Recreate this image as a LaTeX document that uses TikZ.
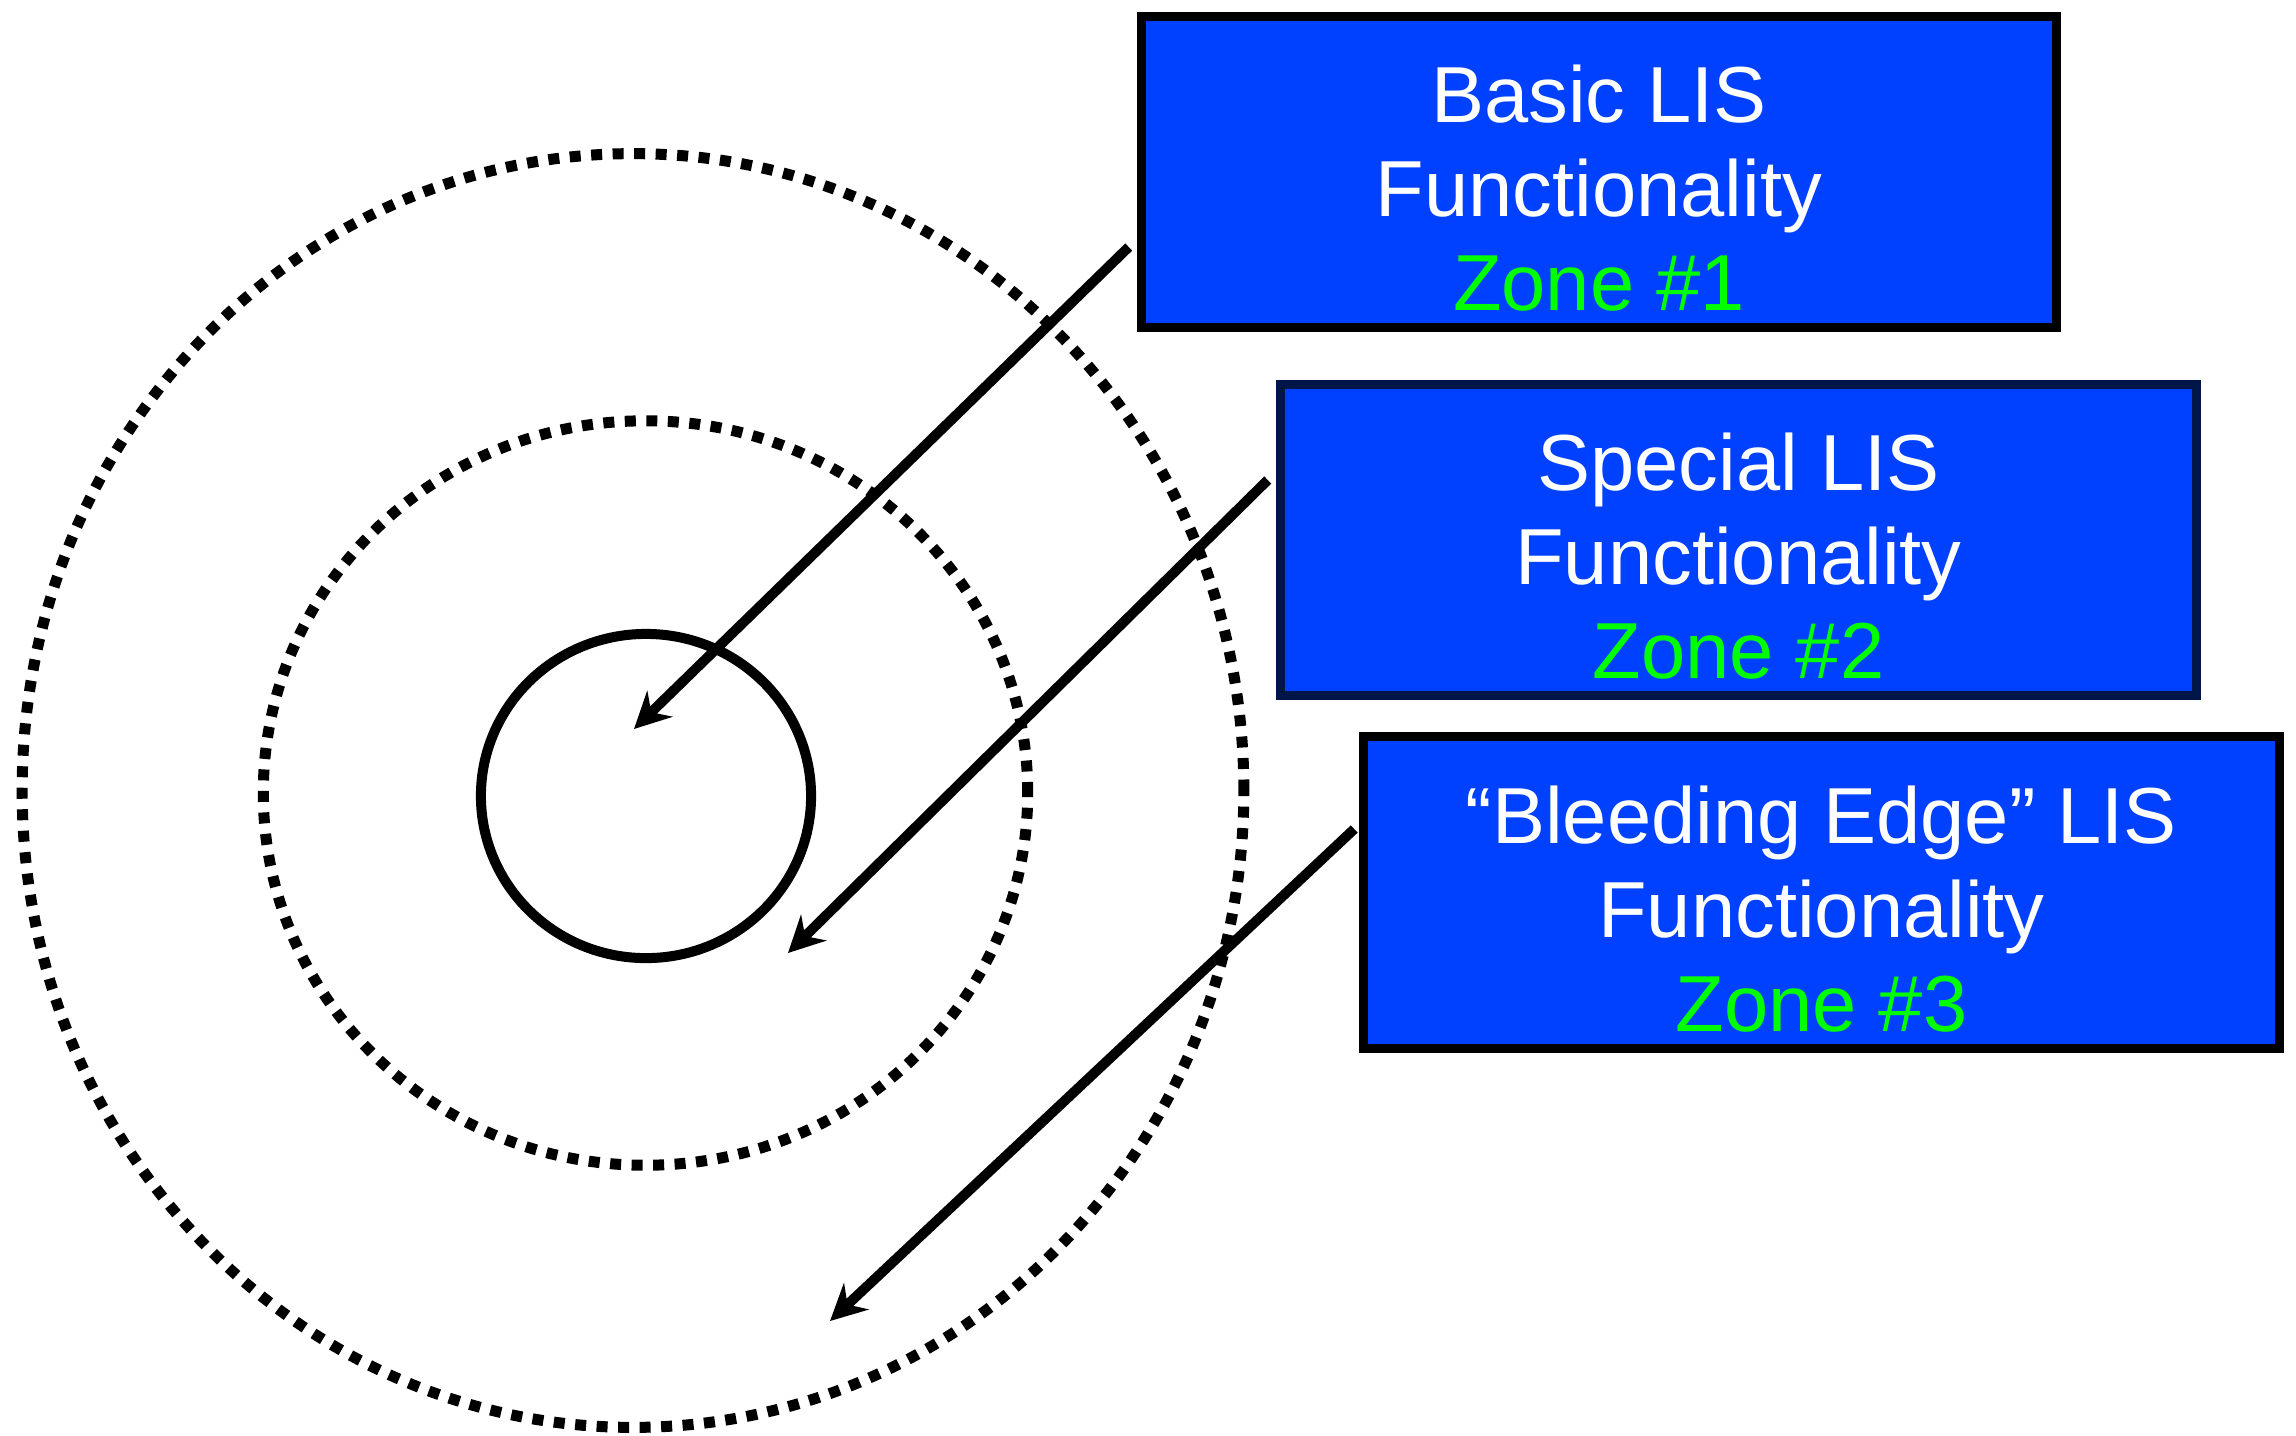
\documentclass[tikz,border=0pt]{standalone}
\usepackage{fontspec}
\setmainfont{Liberation Sans}
\usetikzlibrary{arrows.meta}
\definecolor{zoneblue}{RGB}{0,64,255}
\definecolor{zonegreen}{RGB}{0,255,0}
\definecolor{navyline}{RGB}{0,22,72}

\begin{document}
\begin{tikzpicture}[x=0.01cm,y=-0.01cm,
  >={Stealth[length=3.6mm,width=3.6mm,inset=1.2mm]},
  ring/.style={line width=1.1mm,dash pattern=on 1.1mm off 1.05mm},
  zonebox/.style={draw,line width=0.9mm,fill=zoneblue,minimum width=9.15cm,minimum height=3.11cm,inner sep=0pt},
  zonetext/.style={text=white,align=center,font=\fontsize{22.6}{26.7}\selectfont,anchor=base},
  pointer/.style={line width=1mm}]
  \useasboundingbox (0,0) rectangle (2296,1435);
  % the three zones
  \draw[ring] (633,790.5) ellipse [x radius=6.105cm, y radius=6.365cm];
  \draw[ring] (645.5,793) ellipse [x radius=3.82cm, y radius=3.72cm];
  \draw[line width=1mm] (646,796) ellipse [x radius=1.65cm, y radius=1.62cm];
  % labels
  \node[zonebox] (basic) at (1599,172) {};
  \node[zonebox,draw=navyline] (special) at (1738.5,540) {};
  \node[zonebox] (bleeding) at (1821.5,892.5) {};
  % base anchor = last line
  \node[zonetext] (basictext) at (1599,310) {Basic LIS\\Functionality\\\textcolor{zonegreen}{Zone \#1}};
  \node[zonetext] (specialtext) at (1738.5,678.5) {Special LIS\\Functionality\\\textcolor{zonegreen}{Zone \#2}};
  \node[zonetext] (bleedingtext) at (1821.5,1031.5) {``Bleeding Edge'' LIS\\Functionality\\\textcolor{zonegreen}{Zone \#3}};
  % arrows
  \coordinate (tip1) at (634,729);
  \coordinate (tip2) at (788,953);
  \coordinate (tip3) at (830,1321);
	\draw [->,pointer] ([shift={(-8,75)}]basic.west)--(tip1);
	\draw [->,pointer] ([shift={(-8.5,-60)}]special.west)--(tip2);
	\draw [->,pointer] ([shift={(-5,-63.5)}]bleeding.west)--(tip3);
\end{tikzpicture}
\end{document}
